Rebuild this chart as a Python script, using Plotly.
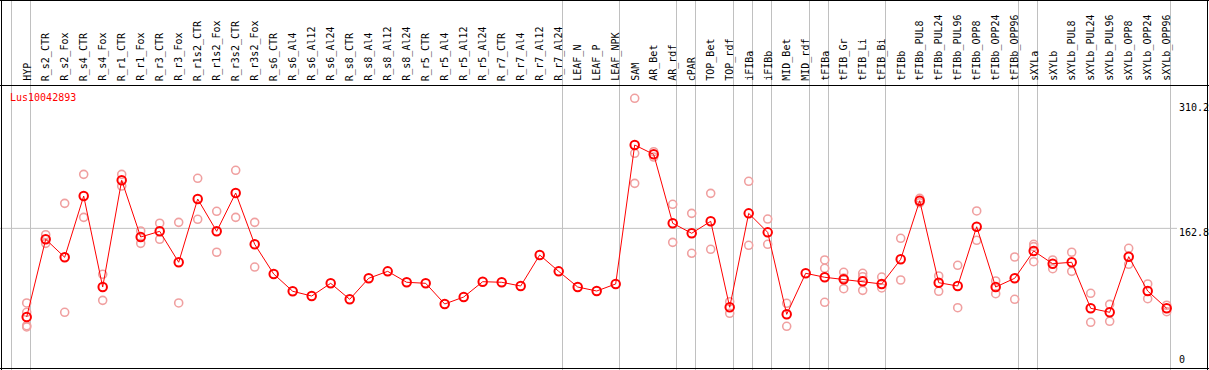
import plotly.graph_objects as go

categories = ["HYP", "R_s2_CTR", "R_s2_Fox", "R_s4_CTR", "R_s4_Fox", "R_r1_CTR", "R_r1_Fox",
              "R_r3_CTR", "R_r3_Fox", "R_r1s2_CTR", "R_r1s2_Fox", "R_r3s2_CTR", "R_r3s2_Fox",
              "R_s6_CTR", "R_s6_Al4", "R_s6_Al12", "R_s6_Al24", "R_s8_CTR", "R_s8_Al4", "R_s8_Al12",
              "R_s8_Al24", "R_r5_CTR", "R_r5_Al4", "R_r5_Al12", "R_r5_Al24", "R_r7_CTR", "R_r7_Al4",
              "R_r7_Al12", "R_r7_Al24", "LEAF_N", "LEAF_P", "LEAF_NPK", "SAM", "AR_Bet", "AR_rdf",
              "cPAR", "TOP_Bet", "TOP_rdf", "iFIBa", "iFIBb", "MID_Bet", "MID_rdf", "tFIBa",
              "tFIB_Gr", "tFIB_Li", "tFIB_Bi", "tFIBb", "tFIBb_PUL8", "tFIBb_PUL24", "tFIBb_PUL96",
              "tFIBb_OPP8", "tFIBb_OPP24", "tFIBb_OPP96", "sXYLa", "sXYLb", "sXYLb_PUL8",
              "sXYLb_PUL24", "sXYLb_PUL96", "sXYLb_OPP8", "sXYLb_OPP24", "sXYLb_OPP96"]

means = [58.3, 149.9, 128.7, 200.9, 93.6, 219.5, 152.6, 159.3, 122.8, 197.4, 159.3, 204.5, 144.0,
         109.0, 88.6, 83.0, 98.0, 79.1, 103.9, 112.1, 99.2, 98.0, 73.6, 81.8, 99.9, 99.2, 94.8,
         131.4, 112.1, 93.6, 88.9, 97.2, 261.1, 250.1, 168.8, 157.0, 171.1, 69.7, 180.5, 158.1,
         61.4, 109.8, 105.1, 102.7, 100.4, 97.2, 126.3, 195.4, 98.7, 94.8, 164.7, 93.6, 103.9,
         136.1, 121.1, 122.8, 68.5, 63.8, 129.4, 88.9, 68.5]

replicates = [[74.8, 63.8, 48.0, 46.5], [155.3, 145.1], [192.3, 63.8], [226.5, 175.8], [108.6, 77.9],
              [226.5, 212.7], [159.7, 145.1], [168.8, 149.9], [169.9, 74.8], [221.8, 173.5],
              [182.9, 134.6], [231.3, 175.8], [169.9, 117.2],
              [], [], [], [], [], [], [], [], [], [], [], [], [], [], [], [], [], [], [],
              [316.2, 251.3, 215.9], [253.2, 246.9], [191.2, 146.3], [180.5, 133.4],
              [204.1, 138.1], [76.3, 62.6], [218.3, 142.8], [173.8, 144.0], [74.4, 47.3], [],
              [125.5, 115.7, 75.6], [111.0, 104.2, 91.6], [109.8, 105.8, 89.7], [105.4, 92.5],
              [151.1, 101.9], [198.2, 193.0], [106.6, 88.6], [119.2, 69.2], [183.3, 148.7],
              [100.7, 85.7], [129.0, 79.1], [144.0, 141.2, 123.5], [125.5, 115.2], [134.6, 112.1],
              [86.2, 52.0], [73.2, 53.2], [139.3, 120.4], [97.2, 79.8], [72.1, 64.5]]

group_sizes = [1, 28, 3, 3, 1, 2, 1, 1, 2, 1, 3, 7, 1, 7]
axis_labels = [310.2, 162.8, 0]
gene_id = "Lus10042893"

W, H = 1209, 370
FONT = "DejaVu Sans Mono"
x_pos = list(range(1, len(categories) + 1))

rep_x, rep_y = [], []
for xi, reps in zip(x_pos, replicates):
    for r in reps:
        rep_x.append(xi)
        rep_y.append(r)

fig = go.Figure()
fig.add_trace(go.Scatter(x=rep_x, y=rep_y, mode="markers",
                         marker=dict(symbol="circle-open", size=8, color="#F0A0A0",
                                     line=dict(width=1.6)),
                         hoverinfo="skip"))
fig.add_trace(go.Scatter(x=x_pos, y=means, mode="lines+markers",
                         line=dict(color="#FF0000", width=1),
                         marker=dict(symbol="circle-open", size=8.5, color="#FF0000",
                                     line=dict(width=2))))

shapes = []
bounds = [0]
for g in group_sizes:
    bounds.append(bounds[-1] + g)
for b in bounds:
    shapes.append(dict(type="line", xref="x", yref="paper", x0=b + 0.2, x1=b + 0.2, y0=0, y1=1,
                       line=dict(color="#C0C0C0", width=1), layer="below"))
shapes.append(dict(type="line", xref="paper", yref="y", x0=0, x1=1177 / W,
                   y0=axis_labels[1], y1=axis_labels[1],
                   line=dict(color="#C0C0C0", width=1), layer="below"))

def px_line(x0, y0, x1, y1):
    return dict(type="line", xref="paper", yref="paper", x0=x0 / W, x1=x1 / W,
                y0=1 - y0 / H, y1=1 - y1 / H, line=dict(color="black", width=1))
shapes += [px_line(1.5, 0, 1.5, H), px_line(1207.5, 0, 1207.5, H),
           px_line(0, 0.5, W, 0.5), px_line(0, 368.5, W, 368.5), px_line(0, 85.5, W, 85.5)]

ann = []
y_px_per = 0.848
header_val = (366.4 - 84) / y_px_per
for xi, name in zip(x_pos, categories):
    ann.append(dict(x=xi, y=header_val, xref="x", yref="y", text=name, textangle=-90,
                    xanchor="center", yanchor="bottom", showarrow=False, yshift=2,
                    font=dict(family=FONT, size=10, color="black"), borderpad=0))
ann.append(dict(x=9 / W, y=1 - 97 / H, xref="paper", yref="paper", text=gene_id,
                xanchor="left", yanchor="middle", showarrow=False,
                font=dict(family=FONT, size=10, color="#FF0000"), borderpad=0))
ann.append(dict(x=1178 / W, y=axis_labels[0], xref="paper", yref="y", text=f"{axis_labels[0]}",
                xanchor="left", yanchor="top", showarrow=False, yshift=2,
                font=dict(family=FONT, size=10, color="black"), borderpad=0))
ann.append(dict(x=1178 / W, y=axis_labels[1], xref="paper", yref="y", text=f"{axis_labels[1]}",
                xanchor="left", yanchor="top", showarrow=False, yshift=2,
                font=dict(family=FONT, size=10, color="black"), borderpad=0))
ann.append(dict(x=1178 / W, y=axis_labels[2], xref="paper", yref="y", text="0",
                xanchor="left", yanchor="bottom", showarrow=False, yshift=0,
                font=dict(family=FONT, size=10, color="black"), borderpad=0))

x0 = 1 - 26.7 / 19
fig.update_layout(
    width=W, height=H, margin=dict(l=0, r=0, t=0, b=0),
    paper_bgcolor="white", plot_bgcolor="white", showlegend=False,
    xaxis=dict(range=[x0, x0 + W / 19], visible=False, fixedrange=True),
    yaxis=dict(range=[-4.25, 432.1], visible=False, fixedrange=True),
    shapes=shapes, annotations=ann,
)
fig.write_html("out.html", config={"displayModeBar": False},
               post_script="document.body.style.margin='0px';document.body.style.overflow='hidden';")
